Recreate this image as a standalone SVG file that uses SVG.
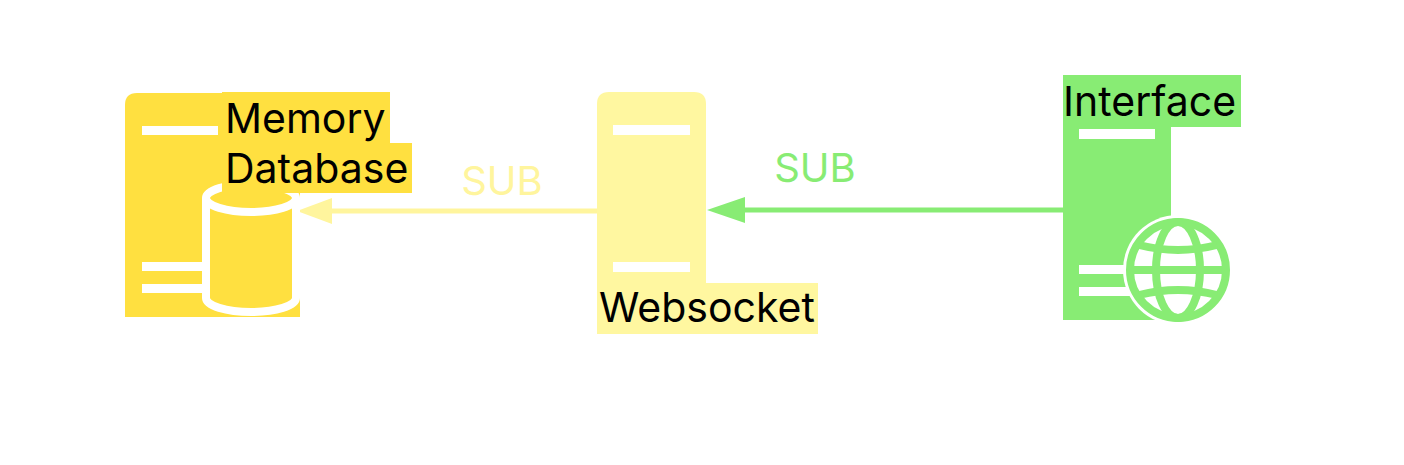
<svg xmlns="http://www.w3.org/2000/svg" width="1404" height="465" viewBox="0 0 1404 465">
<style>
.lbl{font-family:Inter,"Liberation Sans",sans-serif;font-size:41px;fill:#000}
.sub{font-family:Inter,"Liberation Sans",sans-serif;font-size:40px}
.bar{fill:#fff}
</style>
<rect width="1404" height="465" fill="#fff"/>
<g id="connectors">
<line x1="597" y1="211" x2="330" y2="211" stroke="#FFF59D" stroke-width="5"/>
<path d="M297,211 L332,198 L332,224 Z" fill="#FFF59D"/>
<text class="sub" x="502" y="195" text-anchor="middle" fill="#FFF59D">SUB</text>
<line x1="1063" y1="210" x2="740" y2="210" stroke="#88EC74" stroke-width="5"/>
<path d="M707,210 L745,197 L745,223 Z" fill="#88EC74"/>
<text class="sub" x="815" y="182" text-anchor="middle" fill="#88EC74">SUB</text>
</g>
<g id="memory">
<path d="M137,93 H300 V317 H125 V105 Q125,93 137,93 Z" fill="#FFE040"/>
<rect class="bar" x="142" y="126" width="76" height="9"/>
<rect class="bar" x="142" y="262" width="60" height="9"/>
<rect class="bar" x="142" y="284" width="60" height="9"/>
<path d="M206,198 V298 A45,14 0 0 0 296,298 V198" fill="#FFE040" stroke="#fff" stroke-width="8"/>
<ellipse cx="251" cy="198" rx="45" ry="14" fill="#FFE040" stroke="#fff" stroke-width="8"/>
<rect x="222" y="92" width="168" height="51" fill="#FFE040"/>
<rect x="222" y="143" width="190" height="50" fill="#FFE040"/>
<text class="lbl" x="225" y="133">Memory</text>
<text class="lbl" x="225" y="183">Database</text>
</g>
<g id="websocket">
<path d="M609,92 H694 Q706,92 706,104 V283 H597 V104 Q597,92 609,92 Z" fill="#FFF7A0"/>
<rect class="bar" x="613" y="125" width="77" height="10"/>
<rect class="bar" x="613" y="262" width="77" height="10"/>
<rect x="597" y="283" width="221" height="51" fill="#FFF7A0"/>
<text class="lbl" x="599" y="322">Websocket</text>
</g>
<g id="interface">
<rect x="1063" y="75" width="108" height="245" fill="#88EC74"/>
<rect x="1063" y="75" width="178" height="52" fill="#88EC74"/>
<text class="lbl" x="1063" y="116">Interface</text>
<rect class="bar" x="1079" y="129" width="76" height="10"/>
<rect class="bar" x="1079" y="265" width="60" height="9"/>
<rect class="bar" x="1079" y="287" width="60" height="9"/>
<circle cx="1178" cy="270" r="55" fill="#fff"/>
<g fill="none" stroke="#88EC74" stroke-width="8">
<circle cx="1178" cy="270" r="48"/>
<ellipse cx="1178" cy="270" rx="22" ry="48"/>
<line x1="1130" y1="270" x2="1226" y2="270"/>
<path d="M1139,245 Q1178,255 1217,245"/>
<path d="M1139,295 Q1178,285 1217,295"/>
</g>
</g>
</svg>
